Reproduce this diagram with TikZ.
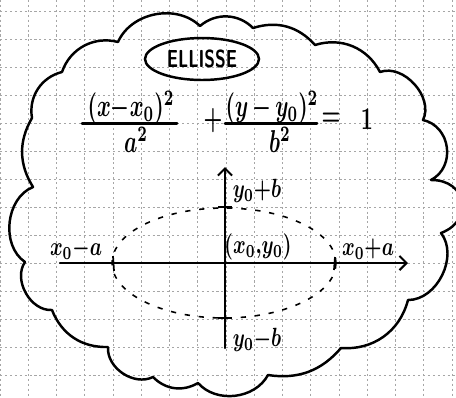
\documentclass[tikz,border=0pt]{standalone}
\usepackage{graphicx}
\usetikzlibrary{arrows.meta,shapes.geometric}
\begin{document}
\begin{tikzpicture}[x=0.02cm,y=-0.02cm,
  gridline/.style={gray!70, line width=0.4pt, dash pattern=on 1.2pt off 1.6pt},
  ink/.style={black, line width=1.4pt, line cap=round, line join=round},
  lbl/.style={inner sep=0pt, xscale=1.1, yscale=1.5, font=\boldmath},
  eqtext/.style={inner sep=0pt, xscale=1.2, yscale=1.8, font=\boldmath},
  dashell/.style={black, line width=0.9pt, dash pattern=on 3pt off 5pt},
  tickmark/.style={black, line width=1pt},
  barb/.style={-{Straight Barb[length=4pt,width=8pt,line width=1.2pt]}}]
\useasboundingbox (0,0) rectangle (456,397);
% grid
\foreach \i in {0,...,16} \draw[gridline] ({28.25*\i},0) -- ({28.25*\i},397);
\foreach \j in {0,...,13} \draw[gridline] (0,{11.5+27.95*\j}) -- (456,{11.5+27.95*\j});
% cloud
\coordinate (n1) at (62,72);
\coordinate (n2) at (118,42);
\coordinate (n3) at (200,26);
\coordinate (n4) at (253,28);
\coordinate (n5) at (315,45);
\coordinate (n6) at (380,72);
\coordinate (n7) at (423,120);
\coordinate (n8) at (431,180);
\coordinate (n9) at (441,233);
\coordinate (n10) at (408,300);
\coordinate (n11) at (341,348);
\coordinate (n12) at (268,375);
\coordinate (n13) at (198,383);
\coordinate (n14) at (153,377);
\coordinate (n15) at (108,347);
\coordinate (n16) at (52,310);
\coordinate (n17) at (25,262);
\coordinate (n18) at (33,187);
\coordinate (n19) at (32,118);
\draw[ink] (n1) to[bend left=43] (n2) to[bend left=55] (n3) to[bend left=43] (n4)
  to[bend left=33] (n5) to[bend left=40] (n6) to[bend left=68] (n7)
  to[bend left=70,looseness=1.2] (n8) to[bend left=80,looseness=1.7] (n9)
  to[bend left=64] (n10) to[bend left=40] (n11) to[bend left=29] (n12)
  to[bend left=55] (n13) to[bend left=38] (n14) to[bend left=60] (n15)
  to[bend left=35] (n16) to[bend left=64] (n17) to[bend left=62] (n18)
  to[bend left=31] (n19) to[bend left=43] (n1);
% title
\node[draw, ellipse, line width=1.4pt, minimum width=2.28cm, minimum height=0.84cm,
  inner sep=0pt] (title) at (202,59)
  {\scalebox{1.0}[1.4]{\sffamily\bfseries ELLISSE}};
% equation
\node[eqtext] (num1) at (131,108) {$(x{-}x_0)^2$};
\coordinate (b1l) at (82,123);
\coordinate (b1r) at (177,123);
\draw[ink, line width=1.7pt] (b1l) -- (b1r);
\node[eqtext] (den1) at (136,140) {$a^2$};
\node[eqtext] (plus) at (213,121) {$+$};
\node[eqtext] (num2) at (272,108) {$(y\,{-}\,y_0)^2$};
\coordinate (b2l) at (225,123);
\coordinate (b2r) at (317,123);
\draw[ink, line width=1.7pt] (b2l) -- (b2r);
\node[eqtext] (den2) at (280,140) {$b^2$};
\node[eqtext] (eqsign) at (331,119) {$=$};
\node[eqtext] (one) at (367,119) {$1$};
% axes
\coordinate (xl) at (60,263);
\coordinate (xr) at (408,263);
\coordinate (yt) at (225,167);
\coordinate (yb) at (225,348);
\draw[ink, barb] (xl) -- (xr);
\draw[ink, barb] (yb) -- (yt);
% dashed ellipse
\draw[dashell] (224,263) ellipse [x radius=2.24cm, y radius=1.1cm];
% ticks
\draw[tickmark] (113,256) -- (114,271);
\draw[tickmark] (335,257) -- (334,270);
\draw[tickmark] (218,207) -- (232,207);
\draw[tickmark] (218,318) -- (232,318);
% labels
\node[lbl] (lxa) at (76,249) {$x_0{-}a$};
\node[lbl] (lc) at (258,247) {$(x_0{,}y_0)$};
\node[lbl] (lxb) at (368,249) {$x_0{+}a$};
\node[lbl] (lyt) at (257,191) {$y_0{+}b$};
\node[lbl] (lyb) at (257,340) {$y_0{-}b$};
\end{tikzpicture}
\end{document}
